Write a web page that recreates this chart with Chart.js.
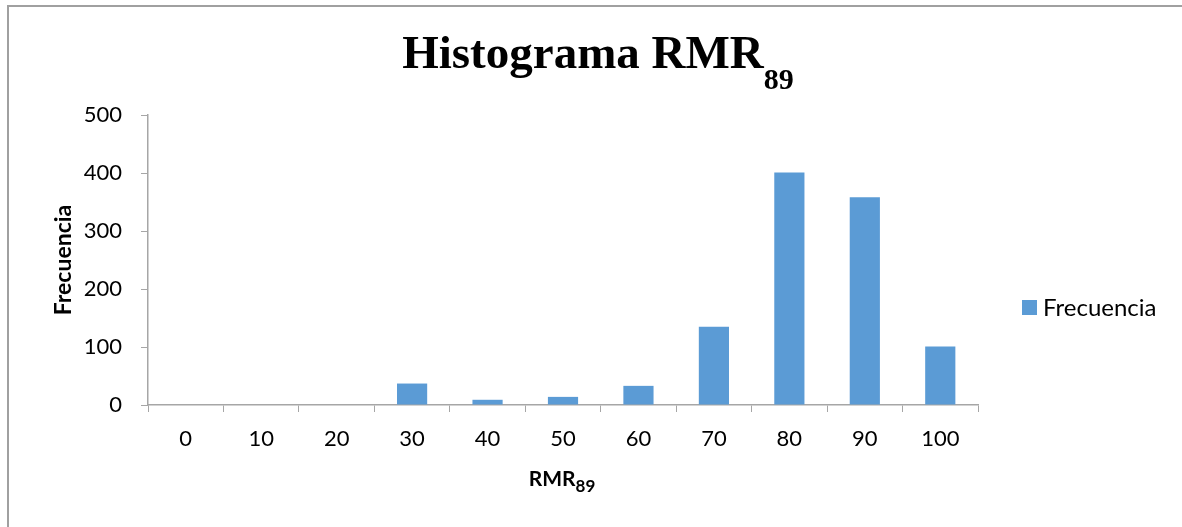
<!DOCTYPE html>
<html>
<head>
<meta charset="utf-8">
<style>
  html, body { margin: 0; padding: 0; background: #ffffff; }
  #wrap { width: 1182px; height: 527px; position: relative; }
  canvas { display: block; }
</style>
<script src="https://cdn.jsdelivr.net/npm/chart.js@4.4.1/dist/chart.umd.min.js"></script>
</head>
<body>
<div id="wrap"><canvas id="chart" width="1182" height="527"></canvas></div>
<script>
// Class marks of RMR89 (bin labels) and the counts in each bin
const categories = ['0', '10', '20', '30', '40', '50', '60', '70', '80', '90', '100'];
const frequencies = [0, 0, 0, 37, 9, 14, 33, 135, 401, 358, 101];
const yTicks = [0, 100, 200, 300, 400, 500];

const seriesName = 'Frecuencia';
const barColor = '#5b9bd5';
const axisColor = '#a6a6a6';
const labelFont = 'Lato';

// Draws text with an optional subscript part, e.g. RMR + 89
function drawSubText(ctx, main, sub, opts) {
  ctx.save();
  ctx.fillStyle = opts.color || '#000';
  ctx.textBaseline = 'alphabetic';
  ctx.textAlign = 'left';
  ctx.font = opts.mainFont;
  const wMain = ctx.measureText(main).width;
  ctx.font = opts.subFont;
  const wSub = ctx.measureText(sub).width;
  const total = wMain + wSub;
  const x0 = opts.cx - total / 2;
  ctx.font = opts.mainFont;
  ctx.fillText(main, x0, opts.baseline);
  ctx.font = opts.subFont;
  ctx.fillText(sub, x0 + wMain, opts.baseline + opts.subShift);
  ctx.restore();
}

const decorations = {
  id: 'decorations',
  afterDraw(chart) {
    const ctx = chart.ctx;
    const area = chart.chartArea;

    // outer frame
    ctx.save();
    ctx.strokeStyle = '#a0a0a0';
    ctx.lineWidth = 2;
    ctx.beginPath();
    ctx.moveTo(8, 527);
    ctx.lineTo(8, 6);
    ctx.lineTo(1182, 6);
    ctx.stroke();
    ctx.restore();

    // chart title
    drawSubText(ctx, 'Histograma RMR', '89', {
      cx: 598, baseline: 68, subShift: 21,
      mainFont: 'bold 47px "Liberation Serif"',
      subFont: 'bold 30px "Liberation Serif"'
    });

    // x axis title
    drawSubText(ctx, 'RMR', '89', {
      cx: 562, baseline: 486, subShift: 6,
      mainFont: 'bold 21px ' + labelFont,
      subFont: 'bold 17px ' + labelFont
    });

    // y axis title
    ctx.save();
    ctx.translate(71, (area.top + area.bottom) / 2);
    ctx.rotate(-Math.PI / 2);
    ctx.font = 'bold 23px ' + labelFont;
    ctx.fillStyle = '#000';
    ctx.textAlign = 'center';
    ctx.textBaseline = 'alphabetic';
    ctx.fillText('Frecuencia', 0, 0);
    ctx.restore();

    // legend entry
    const ds = chart.data.datasets[0];
    ctx.save();
    ctx.fillStyle = ds.backgroundColor;
    ctx.fillRect(1022, 300, 15, 15);
    ctx.fillStyle = '#000';
    ctx.font = '24px ' + labelFont;
    ctx.textBaseline = 'middle';
    ctx.textAlign = 'left';
    ctx.fillText(ds.label, 1043, 308);
    ctx.restore();
  }
};

new Chart(document.getElementById('chart'), {
  type: 'bar',
  data: {
    labels: categories,
    datasets: [{
      label: seriesName,
      data: frequencies,
      backgroundColor: barColor,
      borderWidth: 0,
      categoryPercentage: 1.0,
      barPercentage: 0.4
    }]
  },
  options: {
    responsive: false,
    animation: false,
    events: [],
    layout: { padding: { left: 0, top: 115, right: 204, bottom: 0 } },
    plugins: {
      legend: { display: false },
      title: { display: false },
      tooltip: { enabled: false }
    },
    scales: {
      x: {
        grid: {
          display: true,
          drawOnChartArea: false,
          drawTicks: true,
          tickLength: 7,
          color: axisColor,
          offset: true
        },
        border: { display: true, color: axisColor, width: 1.5 },
        ticks: {
          font: { family: labelFont, size: 22 },
          color: '#000',
          padding: 14,
          maxRotation: 0
        },
        afterFit(scale) { scale.height = 122; }
      },
      y: {
        min: 0,
        max: 500,
        afterBuildTicks(scale) { scale.ticks = yTicks.map(v => ({ value: v })); },
        grid: {
          display: true,
          drawOnChartArea: false,
          drawTicks: true,
          tickLength: 7,
          color: axisColor
        },
        border: { display: true, color: axisColor, width: 1.5 },
        ticks: {
          font: { family: labelFont, size: 22 },
          color: '#000',
          padding: 19
        },
        afterFit(scale) { scale.width = 148; }
      }
    }
  },
  plugins: [decorations]
});
</script>
</body>
</html>
